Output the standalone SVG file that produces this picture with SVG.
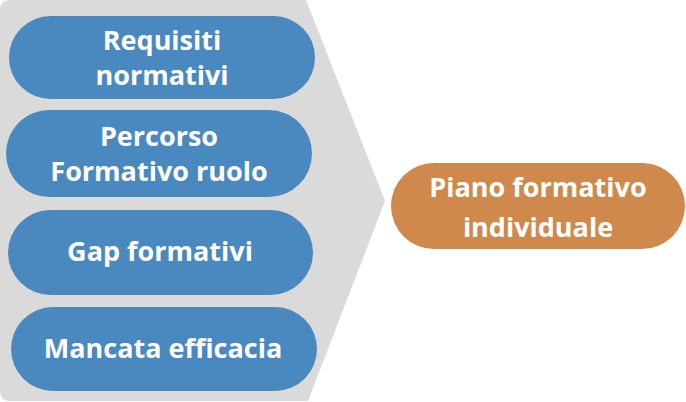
<svg xmlns="http://www.w3.org/2000/svg" width="686" height="402" viewBox="0 0 686 402">
<style>
.blue{fill:#4A89C0}
.orange{fill:#D0894C}
.lbl{font-family:"Open Sans","Liberation Sans",sans-serif;font-weight:bold;font-size:27px;fill:#FFFFFF;text-anchor:middle}
</style>
<rect width="686" height="402" fill="#FFFFFF"/>
<g id="bg">
<path d="M10,0 H306 L385,201 L308,401 H10 Q0,401 0,391 V10 Q0,0 10,0 Z" fill="#DADADA"/>
</g>
<g id="connectors"></g>
<g id="n1">
<rect class="blue" x="9" y="16" width="306" height="83" rx="41.5"/>
<text class="lbl" x="162" y="50">Requisiti</text>
<text class="lbl" x="162" y="85">normativi</text>
</g>
<g id="n2">
<rect class="blue" x="6" y="110" width="306" height="87" rx="43.5"/>
<text class="lbl" x="159" y="146">Percorso</text>
<text class="lbl" x="159" y="181">Formativo ruolo</text>
</g>
<g id="n3">
<rect class="blue" x="8" y="210" width="305" height="85" rx="42.5"/>
<text class="lbl" x="160" y="261">Gap formativi</text>
</g>
<g id="n4">
<rect class="blue" x="11" y="307" width="306" height="84" rx="42"/>
<text class="lbl" x="163" y="358">Mancata efficacia</text>
</g>
<g id="n5">
<rect class="orange" x="391" y="163" width="294" height="86" rx="43"/>
<text class="lbl" x="538" y="197">Piano formativo</text>
<text class="lbl" x="538" y="237">individuale</text>
</g>
</svg>
